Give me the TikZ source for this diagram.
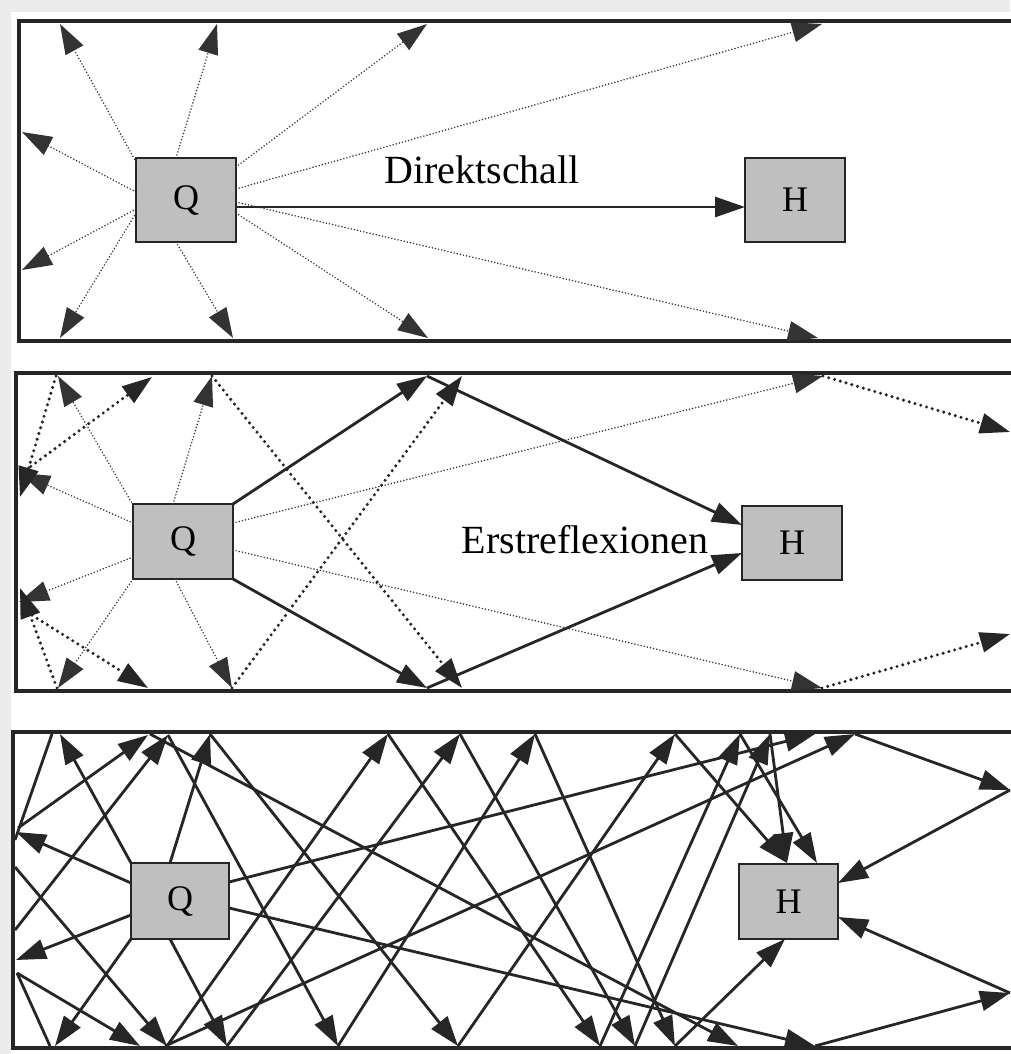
\documentclass[tikz,border=0pt]{standalone}
\usepackage{fontspec}
\setmainfont{Liberation Serif}
\usetikzlibrary{arrows.meta}
\begin{document}
\begin{tikzpicture}[x=1pt,y=-1pt,
  wall/.style={line width=4.2pt, line join=miter, line cap=butt, draw=black!85},
  box/.style={draw=black!85, line width=1.8pt, fill=gray!50, inner sep=0pt, font=\fontsize{36}{40}\selectfont},
  tipA/.style={-{Triangle[length=30pt,width=20pt]}},
  rayA/.style={tipA, draw=black!80, line width=1.7pt, line cap=round, dash pattern=on 0pt off 3.2pt},
  rayB/.style={tipA, draw=black!85, line width=3.4pt, line cap=round, dash pattern=on 0pt off 6pt},
  rayS/.style={tipA, draw=black!85, line width=2.8pt},
  rayN/.style={draw=black!85, line width=2.8pt},
  lab/.style={anchor=base, inner sep=0pt, font=\fontsize{40}{44}\selectfont}
]
\useasboundingbox (0,0) rectangle (1010,1054);
\fill[white] (0,0) rectangle (1010,1054);
\fill[gray!15] (0,0) rectangle (1010,12);
\fill[gray!15] (0,0) rectangle (11,1054);

% ---------------- Panel 1 : Direktschall ----------------
\draw[wall] (1012,21) -- (19,21) -- (19,341) -- (1012,341);
\node[box, minimum width=100pt, minimum height=84pt] (Q1) at (186,200) {Q};
\node[box, minimum width=100pt, minimum height=84pt] (H1) at (795,200) {H};
\node[lab] (L1) at (482,183) {Direktschall};
\foreach \n/\x/\y in {s1a/136/162, e1a/60/24, s1b/176/158, e1b/217/24,
  s1c/236/167, e1c/427/24, s1d/236/189, e1d/822/24, s1e/236/202, e1e/818/338,
  s1f/236/213, e1f/428/338, s1g/176/242, e1g/233/338, s1h/136/213, e1h/60/338,
  s1i/136/209, e1i/22/270, s1j/136/192, e1j/22/132, d1s/236/207, d1e/745/207}
  \coordinate (\n) at (\x,\y);
\foreach \a/\b in {s1a/e1a, s1b/e1b, s1c/e1c, s1d/e1d, s1e/e1e, s1f/e1f,
  s1g/e1g, s1h/e1h, s1i/e1i, s1j/e1j}
  \draw[rayA] (\a) -- (\b);
\draw[rayS] (d1s) -- (d1e);

% ---------------- Panel 2 : Erstreflexionen ----------------
\draw[wall] (1012,373) -- (16,373) -- (16,691) -- (1012,691);
\node[box, minimum width=100pt, minimum height=75pt] (Q2) at (183,541.5) {Q};
\node[box, minimum width=100pt, minimum height=74pt] (H2) at (792,543) {H};
\node[lab] (L2) at (585,553) {Erstreflexionen};
\foreach \n/\x/\y in {s2a/133/505, e2a/58/376, s2b/173/504, e2b/212/376,
  s2c/233/504, e2c/427/376, h2a/742/525, s2d/233/523, e2d/823/376, f2d/1010/432,
  s2e/233/550, e2e/822/688, f2e/1010/634, s2f/233/579, e2f/427/688, h2b/742/553,
  s2g/175/579, e2g/232/688, g2g/462/376, g2b/462/688,
  s2h/133/579, e2h/58/688, s2i/133/557, e2i/19/602, s2j/133/523, e2j/20/473,
  t2k/56/376, l2k/20/497, l2l/26/470, t2l/152/377, b2m/57/688, l2m/20/588,
  l2n/27/612, b2n/148/688}
  \coordinate (\n) at (\x,\y);
\foreach \a/\b in {s2a/e2a, s2b/e2b, s2d/e2d, s2e/e2e, s2g/e2g, s2h/e2h, s2i/e2i, s2j/e2j}
  \draw[rayA] (\a) -- (\b);
\foreach \a/\b in {e2d/f2d, e2e/f2e, e2g/g2g, e2b/g2b, t2k/l2k, l2l/t2l, b2m/l2m, l2n/b2n}
  \draw[rayB] (\a) -- (\b);
\foreach \a/\b in {s2c/e2c, e2c/h2a, s2f/e2f, e2f/h2b}
  \draw[rayS] (\a) -- (\b);

% ---------------- Panel 3 : Nachhall ----------------
\draw[wall] (1012,732) -- (13,732) -- (13,1048) -- (1012,1048);
\node[box, minimum width=98pt, minimum height=76pt] (Q3) at (180,901) {Q};
\node[box, minimum width=99pt, minimum height=75pt] (H3) at (788.5,901.5) {H};
\foreach \n/\x/\y in {qa/131/863, qb/170/863, qc/131/883, qd/131/915, qe/131/939,
  qf/170/939, qg/229/882, qh/229/908,
  ta/60/734, tb/210/734, tc/52/734, td/148/735, te/150/734, tf/168/735, tg/388/734,
  th/460/734, ti/535/734, tj/675/734, tk/740/734, tl/770/734, tm/815/734, tn/855/734,
  la/16/832, lb/16/960, lc/15/840, ld/18/828, le/15/930, lf/15/867, lg/17/973,
  ba/55/1046, bb/227/1046, bc/815/1046, bd/738/1046, be/167/1046, bf/50/1046,
  bg/140/1046, bh/165/1046, bi/458/1046, bj/338/1046, bk/600/1046, bl/635/1046,
  bm/675/1046, ra/1010/790, rb/1010/993,
  ha/838/883, hb/838/917, hc/785/939, hd/787/863, he/817/863}
  \coordinate (\n) at (\x,\y);
\foreach \a/\b in {qa/ta, qb/tb, qc/la, qd/lb, qe/ba, qf/bb, qg/tm, qh/bc,
  ld/td, te/bd, le/tf, lf/be, be/tg, lg/bg, bh/tn, tn/ra, ra/ha, bc/rb, rb/hb,
  tb/bi, tf/bj, bb/th, bj/ti, bi/tj, tg/bk, th/bl, ti/bm, bk/tk, bl/tl, bm/hc,
  tj/hd, tk/he, tl/hd}
  \draw[rayS] (\a) -- (\b);
\foreach \a/\b in {tc/lc, lg/bf}
  \draw[rayN] (\a) -- (\b);
\end{tikzpicture}
\end{document}
